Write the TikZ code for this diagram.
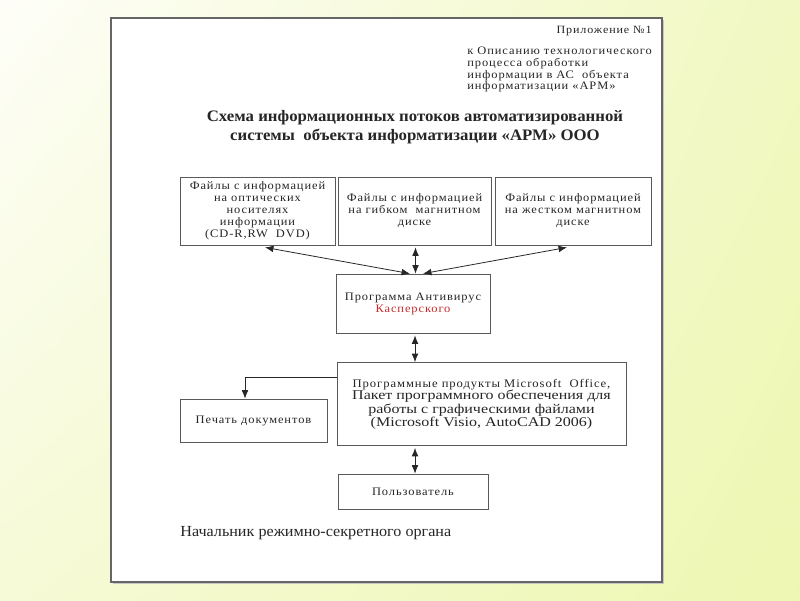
\documentclass[tikz,border=0pt]{standalone}
\usepackage{fontspec}
\setmainfont{Liberation Serif}
\newfontfamily\boxfont[LetterSpace=8,FakeStretch=1.09]{Liberation Serif}
\newfontfamily\widefont[FakeStretch=1.05]{Liberation Serif}
\newfontfamily\offfont[FakeStretch=1.2]{Liberation Serif}
\usetikzlibrary{arrows.meta,positioning,calc,shadings}
\definecolor{bgA}{HTML}{FEFEF8}
\definecolor{bgB}{HTML}{F1F8C2}
\definecolor{bgC}{HTML}{F6FAD6}
\definecolor{bgD}{HTML}{EEF7B2}
\definecolor{ink}{HTML}{262626}
\definecolor{kred}{HTML}{C62A2A}
\begin{document}
\begin{tikzpicture}[x=0.02cm,y=-0.02cm,
  every node/.style={text=ink, inner sep=0pt},
  fbox/.style={draw=black!65, line width=0.45pt, align=center, font=\boxfont\fontsize{6.5}{6.8}\selectfont},
  conn/.style={draw=ink, line width=0.45pt, {Latex[length=4.8pt,width=3.8pt]}-{Latex[length=4.8pt,width=3.8pt]}},
  oneway/.style={draw=ink, line width=0.45pt, -{Latex[length=4.8pt,width=3.8pt]}}]
\useasboundingbox (0,0) rectangle (800,600);
\shade[upper left=bgA, upper right=bgB, lower left=bgC, lower right=bgD] (0,0) rectangle (800,600);
% page
\fill[gray!45] (112.5,19.5) rectangle (664,584);
\draw[fill=white, draw=black!60, line width=0.6pt] (111,18) rectangle (662,582);
% header
\node[anchor=east, font=\boxfont\fontsize{6.3}{7.5}\selectfont] (app) at (652,31) {Приложение №1};
\node[anchor=north west, align=left, font=\boxfont\fontsize{6.5}{6.6}\selectfont] (desc) at (467,47) {к Описанию технологического\\процесса обработки\\информации в АС \ объекта\\информатизации «АРМ»};
\node[align=center, font=\widefont\bfseries\fontsize{9.1}{10.8}\selectfont] (title) at (415,127) {Схема информационных потоков автоматизированной\\системы \ объекта информатизации «АРМ» ООО};
% boxes
\node[fbox, minimum width=3.10cm, minimum height=1.36cm] (b1) at (257.5,211) {Файлы с информацией\\на оптических\\носителях\\информации\\(CD-R,RW \ DVD)};
\node[fbox, minimum width=3.06cm, minimum height=1.36cm] (b2) at (414.5,211) {Файлы с информацией\\на гибком \ магнитном\\диске};
\node[fbox, minimum width=3.12cm, minimum height=1.36cm] (b3) at (573,211) {Файлы с информацией\\на жестком магнитном\\диске};
\node[fbox, minimum width=3.08cm, minimum height=1.18cm] (av) at (413,303.5) {Программа Антивирус\\\textcolor{kred}{Касперского}};
\node[fbox, minimum width=5.78cm, minimum height=1.66cm, font=\offfont\fontsize{7.6}{7.0}\selectfont] (off) at (481.5,404) {{\boxfont\fontsize{6.6}{7.0}\selectfont Программные продукты Microsoft \ Office,}\\Пакет программного обеспечения для\\работы с графическими файлами\\(Microsoft Visio, AutoCAD 2006)};
\node[fbox, minimum width=2.94cm, minimum height=0.86cm] (pr) at (253.5,420.5) {Печать документов};
\node[fbox, minimum width=3.0cm, minimum height=0.70cm] (us) at (413,491.5) {Пользователь};
\node[anchor=west, font=\widefont\fontsize{8.75}{9}\selectfont] (boss) at (180,533) {Начальник режимно-секретного органа};
% connectors
\draw[conn] ([xshift=0.15cm,yshift=-0.04cm]b1.south) -- ([xshift=-0.06cm]av.north);
\draw[conn] ([xshift=0.02cm,yshift=-0.04cm]b2.south) -- ([xshift=0.02cm]b2.south |- av.north);
\draw[conn] ([xshift=-0.12cm,yshift=-0.04cm]b3.south) -- ([xshift=0.2cm]av.north);
\draw[conn] ([xshift=0.04cm,yshift=-0.04cm]av.south) -- ([xshift=0.04cm]av.south |- off.north);
\draw[conn] ([xshift=0.04cm,yshift=-0.04cm]av.south |- off.south) -- ([xshift=0.04cm]av.south |- us.north);
\draw[oneway] ([yshift=-0.3cm]off.north west) -| ([xshift=-0.17cm]pr.north);
\end{tikzpicture}
\end{document}
